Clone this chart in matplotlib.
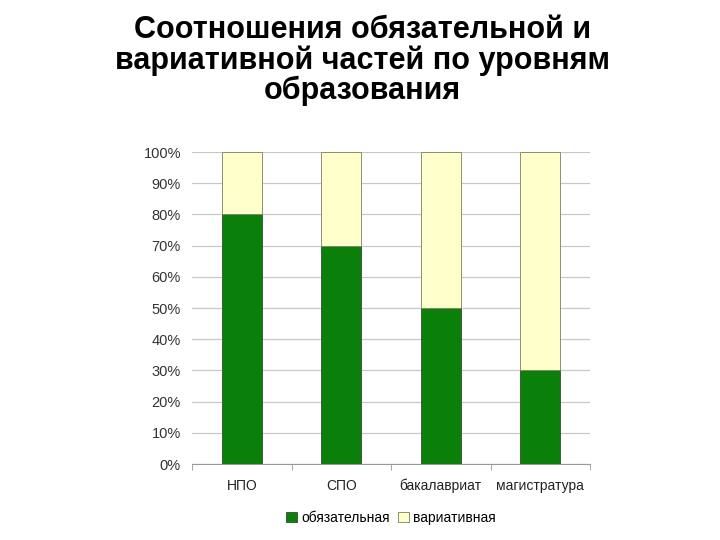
import numpy as np
import matplotlib.pyplot as plt
from matplotlib.ticker import FixedLocator, NullFormatter

# data
categories = ['НПО', 'СПО', 'бакалавриат', 'магистратура']
mandatory = [80, 70, 50, 30]
variative = [20, 30, 50, 70]
yticks = [0, 10, 20, 30, 40, 50, 60, 70, 80, 90, 100]
title = 'Соотношения обязательной и\nвариативной частей по уровням\nобразования'

plt.rcParams['font.family'] = ['Liberation Sans', 'DejaVu Sans']

fig = plt.figure(figsize=(7.2, 5.4), dpi=100)
ax = fig.add_axes([192 / 720, 1 - 464 / 540, 398 / 720, 312 / 540])

x = np.arange(len(categories))
ax.bar(x, mandatory, width=0.4, color='#0a800a', edgecolor='#2f4f2f', linewidth=0.6,
       label='обязательная', zorder=3)
ax.bar(x, variative, width=0.4, bottom=mandatory, color='#ffffcc', edgecolor='#7f7f5f',
       linewidth=0.6, label='вариативная', zorder=3)

ax.set_xlim(-0.5, len(categories) - 0.5)
ax.set_ylim(0, 100)
ax.set_yticks(yticks)
ax.set_yticklabels([f'{v}%' for v in yticks], fontsize=10.5, color='#333333')
ax.yaxis.grid(True, color='#c8c8c8', linewidth=0.9, zorder=0)
ax.tick_params(axis='y', length=0, pad=8)

ax.set_xticks(x)
ax.set_xticklabels(categories, fontsize=10, color='#222222', va='baseline')
ax.xaxis.set_minor_locator(FixedLocator(np.arange(-0.5, len(categories), 1.0)))
ax.xaxis.set_minor_formatter(NullFormatter())
ax.tick_params(axis='x', which='major', length=0, pad=19)
ax.tick_params(axis='x', which='minor', length=4, color='#999999')

for s in ['top', 'right', 'left']:
    ax.spines[s].set_visible(False)
ax.spines['bottom'].set_color('#999999')

ax.legend(loc='upper center', bbox_to_anchor=(0.5, -0.11), ncol=2, frameon=False,
          fontsize=10, handlelength=0.8, handleheight=0.8, handletextpad=0.3,
          columnspacing=0.6)

fig.text(0.503, 0.972, title, ha='center', va='top', fontsize=22, fontweight='bold',
         linespacing=1.0)

fig.savefig('out.png', dpi=100)
